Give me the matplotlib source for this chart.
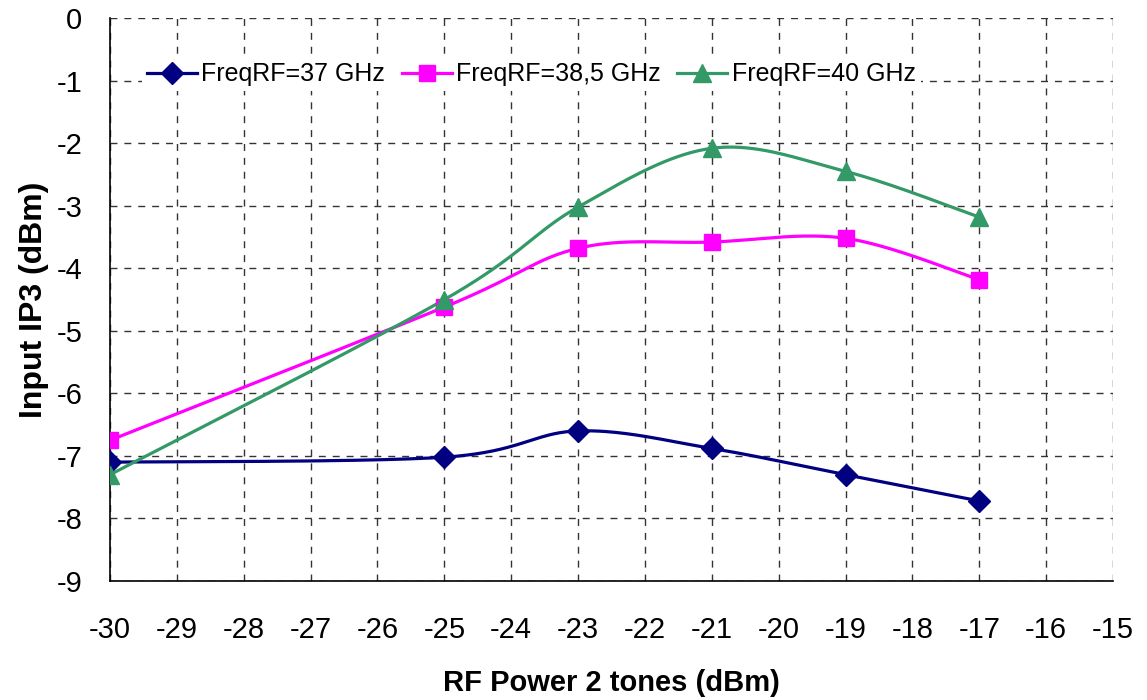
import numpy as np
import matplotlib
matplotlib.use("Agg")
import matplotlib.pyplot as plt
from matplotlib.lines import Line2D

plt.rcParams['font.family'] = ['Liberation Sans', 'DejaVu Sans']
plt.rcParams['axes.unicode_minus'] = False

# RF power of the two tones (dBm)
rf_power = [-30, -25, -23, -21, -19, -17]

# Input IP3 (dBm) for each RF frequency
iip3_37 = [-7.10, -7.02, -6.60, -6.88, -7.30, -7.72]
iip3_38_5 = [-6.75, -4.62, -3.68, -3.58, -3.52, -4.18]
iip3_40 = [-7.30, -4.50, -3.02, -2.08, -2.45, -3.18]

labels = ["FreqRF=37 GHz", "FreqRF=38,5 GHz", "FreqRF=40 GHz"]
colors = ["#000080", "#FF00FF", "#339966"]
markers = ["D", "s", "^"]
marker_sizes = [11, 12, 13]


def smooth_curve(x, y, n=40):
    """Bezier smoothing through the points (spreadsheet-style smoothed line)."""
    p = np.column_stack([x, y]).astype(float)
    pts = np.vstack([p[0], p, p[-1]])
    out = []
    t = np.linspace(0, 1, n)[:, None]
    for i in range(1, len(pts) - 2):
        p0, p1, p2, p3 = pts[i - 1], pts[i], pts[i + 1], pts[i + 2]
        c1 = p1 + (p2 - p0) / 6.0
        c2 = p2 - (p3 - p1) / 6.0
        seg = ((1 - t) ** 3) * p1 + 3 * ((1 - t) ** 2) * t * c1 + 3 * (1 - t) * t ** 2 * c2 + t ** 3 * p2
        out.append(seg if i == 1 else seg[1:])
    c = np.vstack(out)
    return c[:, 0], c[:, 1]


fig = plt.figure(figsize=(11.47, 7.0), dpi=100)
ax = fig.add_axes([0.0959, 0.17, 0.8745, 0.804])

handles = []
for yv, lab, col, mk, ms in zip([iip3_37, iip3_38_5, iip3_40], labels, colors, markers, marker_sizes):
    sx, sy = smooth_curve(rf_power, yv)
    ax.plot(sx, sy, color=col, lw=2.3, zorder=3)
    ax.plot(rf_power, yv, linestyle='none', marker=mk, ms=ms, color=col, mec=col, zorder=4)
    handles.append(Line2D([], [], color=col, lw=2.3, marker=mk, ms=ms, mec=col))

ax.set_xlim(-30, -15)
ax.set_ylim(-9, 0)
ax.set_xticks(np.arange(-30, -14, 1))
ax.set_yticks(np.arange(-9, 1, 1))
ax.grid(True, color='#333333', linestyle=(0, (5, 5)), lw=1.0)
ax.set_axisbelow(True)

for side in ['top', 'right']:
    ax.spines[side].set_visible(False)
for side in ['left', 'bottom']:
    ax.spines[side].set_linewidth(1.2)
    ax.spines[side].set_color('black')

ax.tick_params(axis='both', length=0, labelsize=21)
ax.tick_params(axis='y', pad=20)
ax.tick_params(axis='x', pad=25)

ax.set_xlabel("RF Power 2 tones (dBm)", fontsize=21, fontweight='bold', labelpad=18)
ax.set_ylabel("Input IP3 (dBm)", fontsize=23, fontweight='bold', labelpad=5)

leg = ax.legend(handles, labels, ncol=3, loc='center', bbox_to_anchor=(0.42, 0.9),
                frameon=True, fontsize=18, handlelength=2.0, handletextpad=0.18,
                columnspacing=0.65, borderpad=0.2, borderaxespad=0)
leg.get_frame().set_facecolor('white')
leg.get_frame().set_edgecolor('none')
leg.get_frame().set_alpha(1.0)

fig.savefig("out.png", dpi=100)
